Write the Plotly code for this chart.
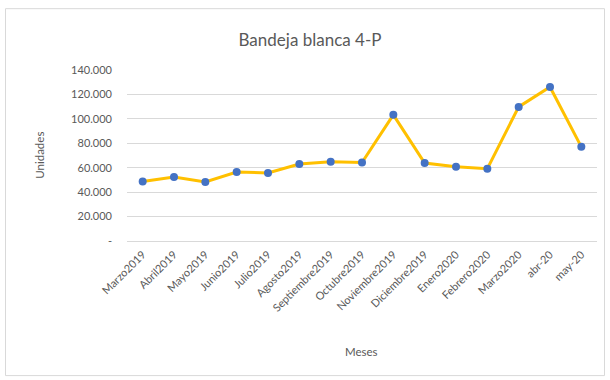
import plotly.graph_objects as go

# Monthly units for "Bandeja blanca 4-P"
meses = ["Marzo2019", "Abril2019", "Mayo2019", "Junio2019", "Julio2019",
         "Agosto2019", "Septiembre2019", "Octubre2019", "Noviembre2019",
         "Diciembre2019", "Enero2020", "Febrero2020", "Marzo2020",
         "abr-20", "may-20"]
unidades = [48800, 52400, 48300, 56500, 55700, 63000, 64900, 64300, 103300,
            63800, 60800, 59200, 109800, 126100, 77100]

y_ticks = [0, 20000, 40000, 60000, 80000, 100000, 120000, 140000]
y_tick_text = ["-", "20.000", "40.000", "60.000", "80.000", "100.000",
               "120.000", "140.000"]

FONT = "Lato, 'Open Sans', sans-serif"
TEXT = "#595959"

W, H = 610, 380
L, R, T, B = 127, 13, 70, 138.5
pw, ph = W - L - R, H - T - B

fig = go.Figure()
fig.add_trace(go.Scatter(
    x=meses, y=unidades, mode="lines+markers",
    line=dict(color="#FFC000", width=3),
    marker=dict(color="#4472C4", size=8),
    hoverinfo="x+y", showlegend=False,
))

def px_to_paper_x(px):
    return (px - L) / pw

def px_to_paper_y(py):
    return (H - B - py) / ph

# Outer chart frame
fig.add_shape(type="rect", xref="paper", yref="paper",
              x0=px_to_paper_x(5.5), x1=px_to_paper_x(604.5),
              y0=px_to_paper_y(376.5), y1=px_to_paper_y(8.5),
              line=dict(color="#D9D9D9", width=1), layer="below")

# Axis titles
fig.add_annotation(text="Meses", xref="paper", yref="paper",
                   x=px_to_paper_x(361), y=px_to_paper_y(352),
                   showarrow=False, xanchor="center", yanchor="middle",
                   font=dict(size=11.5, color=TEXT, family=FONT))
fig.add_annotation(text="Unidades", xref="paper", yref="paper",
                   x=px_to_paper_x(40), y=px_to_paper_y(156),
                   showarrow=False, xanchor="center", yanchor="middle",
                   textangle=-90,
                   font=dict(size=11.5, color=TEXT, family=FONT))

fig.update_layout(
    width=W, height=H,
    margin=dict(l=L, r=R, t=T, b=B),
    paper_bgcolor="white", plot_bgcolor="white",
    font=dict(family=FONT, color=TEXT, size=10),
    title=dict(text="Bandeja blanca 4-P", x=(310 / W), xanchor="center",
               y=1 - 40 / H, yanchor="middle",
               font=dict(size=17, color=TEXT, family=FONT)),
    xaxis=dict(
        type="category", tickangle=-45, showgrid=False,
        showline=False, ticks="", tickfont=dict(size=11, color=TEXT),
        range=[-0.5, len(meses) - 0.5], ticklabelstandoff=4,
    ),
    yaxis=dict(
        range=[0, 140000], tickvals=y_ticks, ticktext=y_tick_text,
        showgrid=True, gridcolor="#D9D9D9", gridwidth=1,
        zeroline=True, zerolinecolor="#D9D9D9", zerolinewidth=1,
        showline=False, ticks="", tickfont=dict(size=11, color=TEXT),
        ticklabelstandoff=14,
    ),
)

fig.write_html("out.html")
